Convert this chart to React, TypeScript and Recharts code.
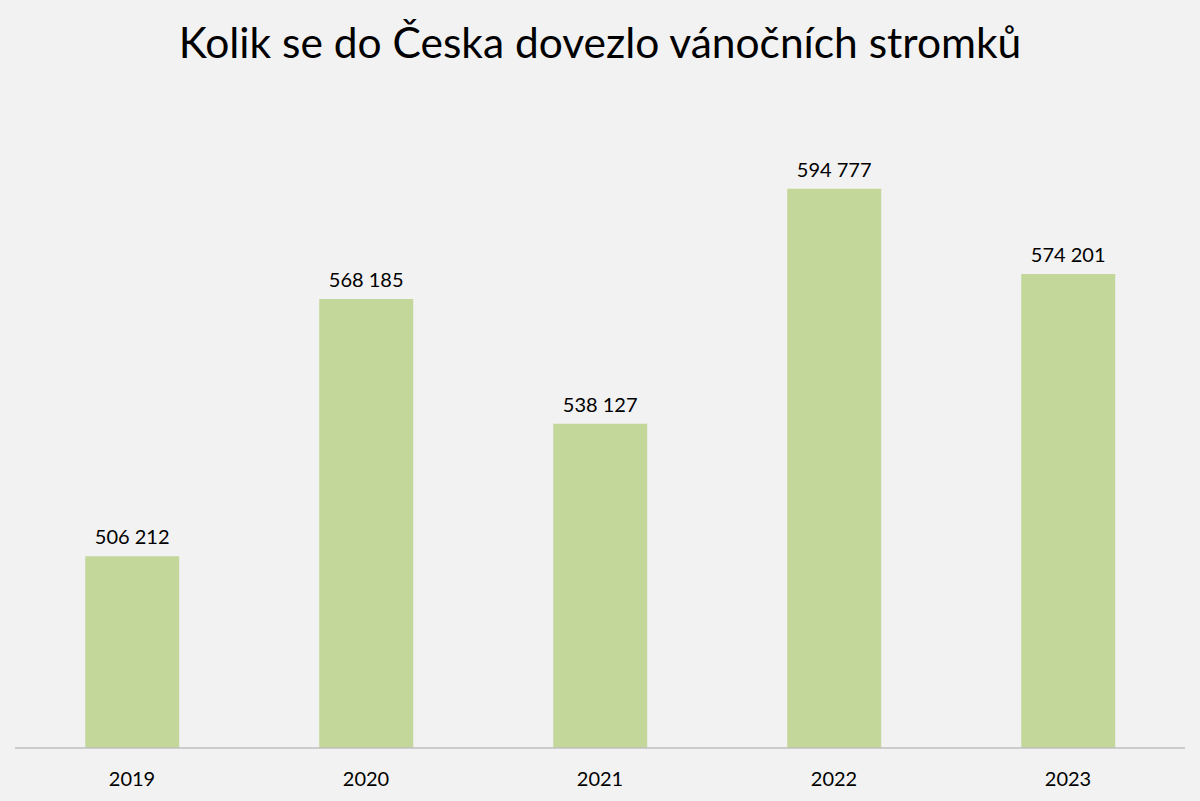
import React from "react";
import { BarChart, Bar, XAxis, YAxis, LabelList } from "recharts";

const years = ["2019", "2020", "2021", "2022", "2023"];
const trees = [506212, 568185, 538127, 594777, 574201];
const title = "Kolik se do Česka dovezlo vánočních stromků";

const data = years.map((y, i) => ({ year: y, value: trees[i] }));

const fmt = (v: number) => {
  const s = String(v);
  return s.replace(/\B(?=(\d{3})+(?!\d))/g, " ");
};

const FONT = "Lato, 'Open Sans', sans-serif";

export default function App() {
  return (
    <div
      style={{
        position: "absolute",
        left: 0,
        top: 0,
        width: 1200,
        height: 801,
        background: "#f2f2f2",
        fontFamily: FONT,
      }}
    >
      <div
        style={{
          position: "absolute",
          left: 0,
          top: 12,
          width: 1200,
          textAlign: "center",
          fontSize: 42.5,
          color: "#000",
          lineHeight: "60px",
        }}
      >
        {title}
      </div>
      <BarChart
        width={1200}
        height={801}
        data={data}
        margin={{ top: 167, right: 15, bottom: 23, left: 15 }}
        barCategoryGap="30%"
      >
        <XAxis
          dataKey="year"
          tickLine={false}
          axisLine={{ stroke: "#bfbfbf", strokeWidth: 1.5 }}
          tick={{ fill: "#000", fontSize: 20, fontFamily: FONT }}
          tickMargin={18}
          interval={0}
        />
        <YAxis hide domain={[460000, 600000]} allowDataOverflow />
        <Bar dataKey="value" fill="#c4d79b" isAnimationActive={false}>
          <LabelList
            dataKey="value"
            position="top"
            offset={12}
            formatter={(v: any) => fmt(Number(v))}
            style={{ fill: "#000", fontSize: 20, fontFamily: FONT }}
          />
        </Bar>
      </BarChart>
    </div>
  );
}
